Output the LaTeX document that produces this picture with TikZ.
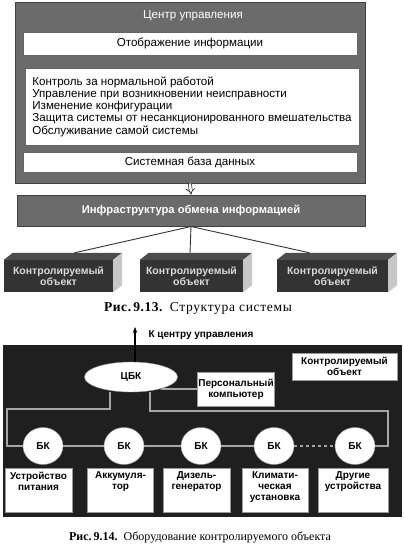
\documentclass[tikz,border=0pt]{standalone}
\usepackage{fontspec}
\setmainfont{Liberation Serif}
\newfontfamily\diagfont{Liberation Sans}
\usepackage{xcolor}
\usepackage{tikz}
\usetikzlibrary{positioning,arrows.meta,shapes.geometric,calc}

% fixed-height box content, text on top
\newcommand{\topbox}[1]{\parbox[c][36pt][t]{66pt}{\centering #1}}

\begin{document}
\begin{tikzpicture}[
    x=1pt, y=-1pt,
    font=\diagfont\fontsize{11.6}{12.3}\selectfont,
    panel/.style={
        draw=black!75,
        fill=black!58,
        line width=1pt,
        inner sep=0pt
    },
    whitebox/.style={
        draw=black!60,
        fill=white,
        minimum width=334pt,
        inner sep=0pt
    },
    darktext/.style={text=white},
    object/.style={
        fill=black!80,
        minimum height=32pt,
        inner sep=0pt,
        align=center,
        text=white!85!black,
        font=\diagfont\fontsize{10.5}{11.5}\selectfont\bfseries
    },
    link/.style={draw=black!80, line width=0.9pt},
    bus/.style={draw=black!35, line width=1.8pt},
    whitenode/.style={draw=black!40, fill=white, inner sep=1pt, align=center,
        font=\diagfont\fontsize{10}{11}\selectfont\bfseries},
    bkcircle/.style={whitenode, ellipse, minimum width=40pt, minimum height=37pt},
    devbox/.style={whitenode, minimum height=44pt, inner sep=0pt},
    caption/.style={font=\fontsize{12}{14}\selectfont}
]
\useasboundingbox (0,0) rectangle (404,544);

% Control centre
\node[panel, minimum width=350pt, minimum height=181pt] (centre) at (190,92.5) {};
\node[darktext] (centretitle) at (193,16) {Центр управления};
\node[whitebox, minimum height=23pt] (display) at (190,43.5) {Отображение информации};
\node[whitebox, minimum height=77pt, align=left] (functions) at (192,106.5) {%
    Контроль за нормальной работой\\
    Управление при возникновении неисправности\\
    Изменение конфигурации\\
    Защита системы от несанкционированного вмешательства\\
    Обслуживание самой системы};
\node[whitebox, minimum height=20pt] (database) at (190,162) {Системная база данных};

% Infrastructure
\node[panel, minimum width=348pt, minimum height=31pt, darktext, font=\diagfont\fontsize{11.2}{12}\selectfont\bfseries] (infra) at (191,210.5) {Инфраструктура обмена информацией};
\draw[double=white, double distance=2.5pt, line width=0.6pt, -{Implies[length=4pt]}] (centre.south) -- (infra.north);

% Controlled objects
\node[object, minimum width=109pt] (obj1) at (58.5,276) {Контролируемый\\объект};
\node[object, minimum width=103pt] (obj2) at (191.5,276) {Контролируемый\\объект};
\node[object, minimum width=111pt] (obj3) at (332.5,276) {Контролируемый\\объект};
\fill[black!70] (obj1.north west) -- ([shift={(9,-7)}]obj1.north west) -- ([shift={(9,-7)}]obj1.north east) -- (obj1.north east) -- cycle;
\fill[black!22] (obj1.north east) -- ([shift={(9,-7)}]obj1.north east) -- ([shift={(9,-7)}]obj1.south east) -- (obj1.south east) -- cycle;
\fill[black!70] (obj2.north west) -- ([shift={(9,-7)}]obj2.north west) -- ([shift={(9,-7)}]obj2.north east) -- (obj2.north east) -- cycle;
\fill[black!22] (obj2.north east) -- ([shift={(9,-7)}]obj2.north east) -- ([shift={(9,-7)}]obj2.south east) -- (obj2.south east) -- cycle;
\fill[black!70] (obj3.north west) -- ([shift={(9,-7)}]obj3.north west) -- ([shift={(9,-7)}]obj3.north east) -- (obj3.north east) -- cycle;
\fill[black!22] (obj3.north east) -- ([shift={(9,-7)}]obj3.north east) -- ([shift={(9,-7)}]obj3.south east) -- (obj3.south east) -- cycle;

\draw[link] (infra.south) -- ([shift={(16,-7)}]obj1.north);
\draw[link] (infra.south) -- ([shift={(-1.5,-7)}]obj2.north);
\draw[link] (infra.south) -- ([shift={(-23,-7)}]obj3.north);

\node[caption, font=\fontsize{13.5}{15}\selectfont] (cap1) at (198,308) {{\addfontfeatures{LetterSpace=4}\textbf{Рис.\,9.13.}}\ \ {\addfontfeatures{LetterSpace=5}Структура системы}};

% Equipment of the controlled object
\node[fill=black!88, minimum width=399pt, minimum height=172pt, inner sep=0pt] (site) at (202.5,431) {};
\node[font=\diagfont\fontsize{10}{11}\selectfont\bfseries, anchor=west] (uplabel) at (145,335) {К центру управления};
\node[whitenode, ellipse, minimum width=93pt, minimum height=30pt] (cbk) at (131,377) {ЦБК};
\coordinate (tocentre) at (135,327);
\draw[-{Stealth[length=6pt]}, line width=1.2pt] ([shift={(4,0)}]cbk.north) -- (tocentre);
\node[whitenode, minimum width=77pt, minimum height=34pt] (pc) at (236,389) {Персональный\\компьютер};
\node[whitenode, minimum width=105pt, minimum height=27pt] (sitelabel) at (344.5,366.5) {Контролируемый\\объект};
\draw[bus] (cbk.-22) -- (pc.west);

% Bus with block controllers
\coordinate (busleft) at (7,409);
\coordinate (busright) at (388,411);
\node[bkcircle] (bk1) at (43,446) {БК};
\node[bkcircle] (bk2) at (124,446) {БК};
\node[bkcircle] (bk3) at (201,446) {БК};
\node[bkcircle] (bk4) at (274,446) {БК};
\node[bkcircle] (bk5) at (355,446) {БК};
\draw[bus] ([shift={(-21,0)}]cbk.south) |- (busleft) |- (bk1.west);
\draw[bus] ([shift={(19,0)}]cbk.south) |- (busright) |- (bk5.east);
\draw[bus] (bk1) -- (bk2) -- (bk3) -- (bk4);
\draw[bus, dashed] (bk4) -- (bk5);

\node[devbox, minimum width=67pt] (dev1) at (38.5,490) {\topbox{Устройство\\питания}};
\node[devbox, minimum width=65pt] (dev2) at (120.5,490) {\topbox{Аккумуля-\\тор}};
\node[devbox, minimum width=67pt] (dev3) at (196.5,490) {\topbox{Дизель-\\генератор}};
\node[devbox, minimum width=66pt] (dev4) at (275,490) {\topbox{Климати-\\ческая\\установка}};
\node[devbox, minimum width=70pt] (dev5) at (353,490) {\topbox{Другие\\устройства}};

\node[caption] (cap2) at (200,537) {\textbf{Рис.\,9.14.}\ \ Оборудование контролируемого объекта};

\end{tikzpicture}
\end{document}
